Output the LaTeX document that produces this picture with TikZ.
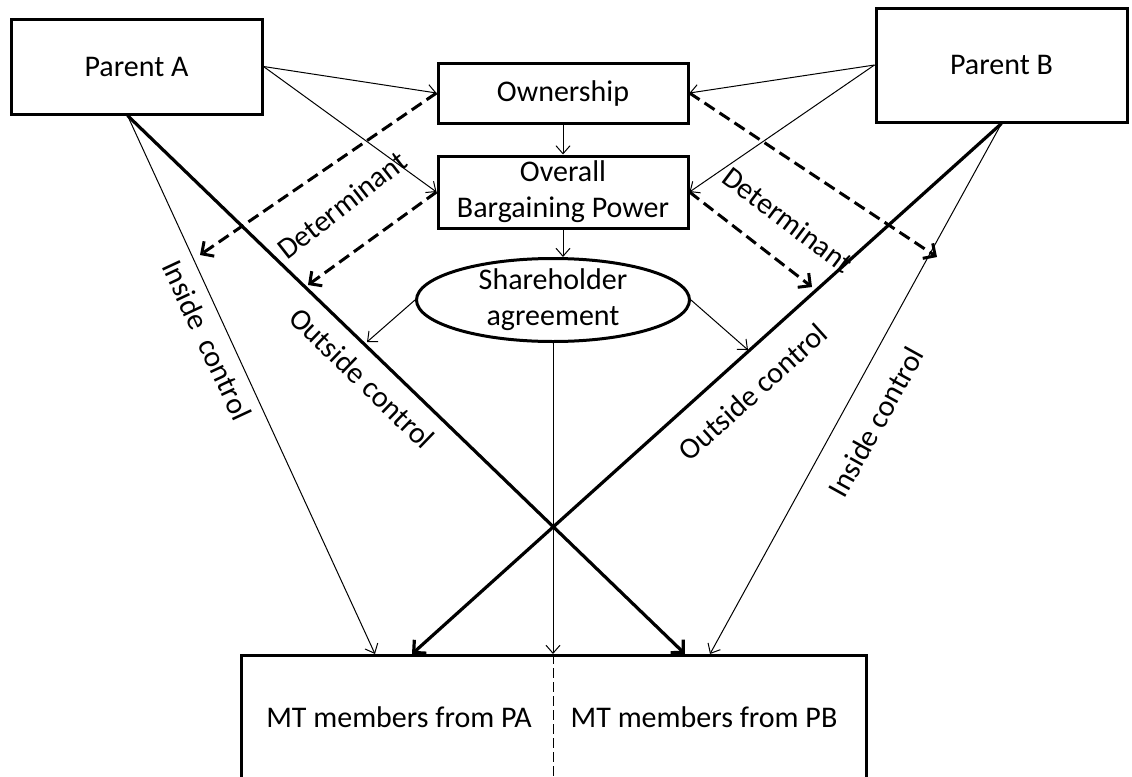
\documentclass[tikz,border=0pt]{standalone}
\usepackage{fontspec}
\setmainfont{Carlito}
\usetikzlibrary{arrows.meta,shapes.geometric,positioning}
\tikzset{
    box/.style={draw,black,line width=1.5pt,align=center,inner sep=0pt},
    flow/.style={black,line width=0.5pt,-{Straight Barb[length=4pt,width=7pt]}},
    ctrl/.style={black,line width=1.6pt,-{Straight Barb[length=4.5pt,width=9pt]}},
    determ/.style={black,line width=1.5pt,dash pattern=on 6pt off 3pt,-{Straight Barb[length=4.5pt,width=9pt]}}
}
\begin{document}
\begin{tikzpicture}[x=0.5pt,y=-0.5pt,font=\fontsize{15}{18}\selectfont]
                \useasboundingbox (0,0) rectangle (1132,777);
                \clip (0,0) rectangle (1132,777);
                \node[box,minimum width=125.5pt,minimum height=47.5pt] (pa) at (136.5,66.5) {Parent A};
                \node[box,minimum width=125.5pt,minimum height=57pt] (pb) at (1001.5,65) {Parent B};
                \node[box,minimum width=125pt,minimum height=30pt] (own) at (563,93) {Ownership};
                \node[box,minimum width=125pt,minimum height=36pt] (ovr) at (563,192) {Overall\\Bargaining Power};
                \node[draw,ellipse,line width=1.5pt,minimum width=136.5pt,minimum height=41.5pt,inner sep=0pt,
                      label={[align=center]center:Shareholder\\agreement}] (sha) at (553,300) {};
                \node[draw,line width=1.5pt,minimum width=312.5pt,minimum height=90pt,anchor=north] (mt) at (553.5,654) {};
                \node[anchor=base] (mtpa) at (399,727) {MT members from PA};
                \node[anchor=base] (mtpb) at (704,727) {MT members from PB};
                \draw[black,line width=0.5pt,dash pattern=on 5pt off 2pt] (mt.north) -- (mt.south);
                \coordinate (a1) at (375,654);
                \coordinate (a2) at (685,654);
                \coordinate (b1) at (412,654);
                \coordinate (b2) at (710,654);
                \coordinate (sa) at (367,342);
                \coordinate (sb) at (748,350);
                \coordinate (da1) at (200,255);
                \coordinate (da2) at (308,285);
                \coordinate (db1) at (937,257);
                \coordinate (db2) at (812,287);
                \draw[flow] ([xshift=-4.5pt]pa.south) -- (a1);
                \draw[flow] (pb.south) -- (b2);
                \draw[ctrl] ([xshift=-4.5pt]pa.south) -- (a2);
                \draw[ctrl] (pb.south) -- (b1);
                \draw[flow] (pa.east) -- (own.west);
                \draw[flow] (pa.east) -- (ovr.west);
                \draw[flow] (pb.west) -- (own.east);
                \draw[flow] (pb.west) -- (ovr.east);
                \draw[flow] (own.south) -- (ovr.north);
                \draw[flow] (ovr.south) -- (ovr.south |- sha.north);
                \draw[flow] (sha.south) -- (sha.south |- mt.north);
                \draw[flow] (sha.west) -- (sa);
                \draw[flow] (sha.east) -- (sb);
                \draw[determ] (own.west) -- (da1);
                \draw[determ] (ovr.west) -- (da2);
                \draw[determ] (own.east) -- (db1);
                \draw[determ] (ovr.east) -- (db2);
                \node[rotate=38] (deta) at (342,205) {Determinant};
                \node[rotate=-37] (detb) at (788,220) {Determinant};
                \node[rotate=-44] (outa) at (362,378) {Outside control};
                \node[rotate=42] (outb) at (753,392) {Outside control};
                \node[rotate=-65] (insa) at (207,340) {Inside\ \ control};
                \node[rotate=61] (insb) at (876,422) {Inside control};
            \end{tikzpicture}
\end{document}
